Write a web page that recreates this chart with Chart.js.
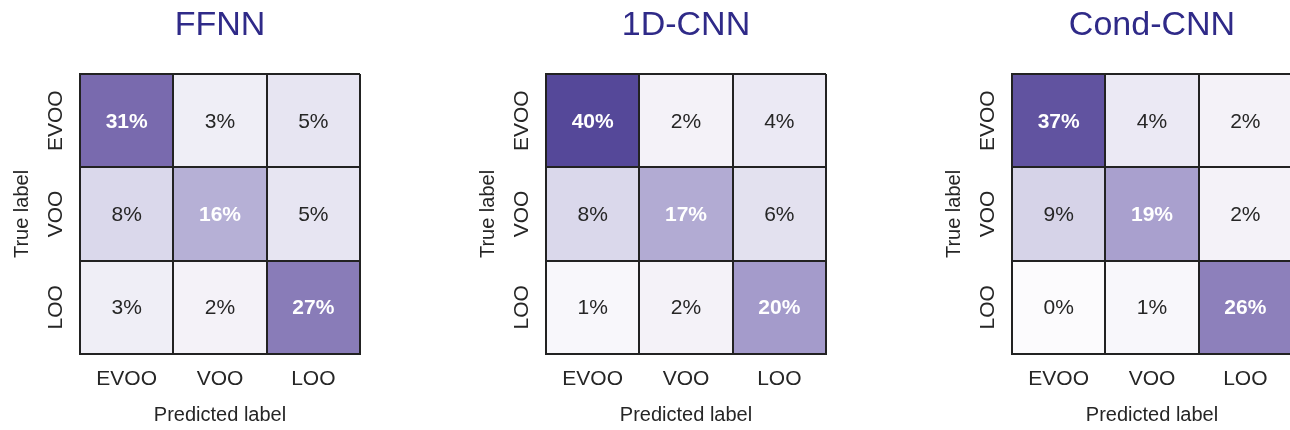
<!DOCTYPE html>
<html>
<head>
<meta charset="utf-8">
<script src="https://cdn.jsdelivr.net/npm/chart.js@4"></script>
<style>
  html, body { margin: 0; padding: 0; background: #fff; width: 1290px; height: 430px; overflow: hidden; }
  .panel { position: absolute; top: 0; width: 430px; height: 430px; }
</style>
</head>
<body>
<div class="panel" style="left:0px"><canvas id="c0" width="430" height="430"></canvas></div>
<div class="panel" style="left:466px"><canvas id="c1" width="430" height="430"></canvas></div>
<div class="panel" style="left:932px"><canvas id="c2" width="430" height="430"></canvas></div>
<script>
// ---- data ----
const predLabels = ['EVOO', 'VOO', 'LOO'];
const trueLabels = ['EVOO', 'VOO', 'LOO'];
const modelNames = ['FFNN', '1D-CNN', 'Cond-CNN'];
const ffnnValues = [[31, 3, 5], [8, 16, 5], [3, 2, 27]];
const cnn1dValues = [[40, 2, 4], [8, 17, 6], [1, 2, 20]];
const condCnnValues = [[37, 4, 2], [9, 19, 2], [0, 1, 26]];
const allValues = [ffnnValues, cnn1dValues, condCnnValues];

// ---- colour map (light to dark purple) ----
const cmapStops = [
  [0, [252, 251, 253]],
  [10, [210, 207, 230]],
  [20, [164, 155, 203]],
  [30, [125, 110, 176]],
  [40, [85, 72, 153]]
];
function cmap(v) {
  for (let i = 0; i < cmapStops.length - 1; i++) {
    const [a, ca] = cmapStops[i], [b, cb] = cmapStops[i + 1];
    if (v <= b || i === cmapStops.length - 2) {
      const t = Math.max(0, Math.min(1, (v - a) / (b - a)));
      const c = ca.map((x, k) => Math.round(x + (cb[k] - x) * t));
      return `rgb(${c[0]},${c[1]},${c[2]})`;
    }
  }
}

const FONT = 'Arial, "Liberation Sans", sans-serif';
const lineColor = '#222222';

const cellText = {
  id: 'cellText',
  afterDatasetsDraw(chart) {
    const ctx = chart.ctx;
    const vals = chart.options.plugins.cellText.values;
    ctx.save();
    ctx.textAlign = 'center';
    ctx.textBaseline = 'middle';
    chart.data.datasets.forEach((ds, r) => {
      const meta = chart.getDatasetMeta(r);
      meta.data.forEach((el, c) => {
        const v = vals[r][c];
        const white = v >= 15;
        ctx.fillStyle = white ? '#ffffff' : '#262626';
        ctx.font = (white ? 'bold ' : '') + '21px ' + FONT;
        ctx.fillText(v + '%', el.x, (el.y + el.base) / 2 + 1);
      });
    });
    ctx.restore();
  }
};

function makeChart(idx) {
  const vals = allValues[idx];
  const datasets = trueLabels.map((lab, r) => ({
    label: lab,
    data: predLabels.map(() => [r, r + 1]),
    backgroundColor: vals[r].map(v => cmap(v)),
    borderWidth: 0,
    grouped: false,
    barPercentage: 1,
    categoryPercentage: 1
  }));
  new Chart(document.getElementById('c' + idx), {
    type: 'bar',
    data: { labels: predLabels, datasets },
    plugins: [cellText],
    options: {
      responsive: false,
      animation: false,
      devicePixelRatio: 1,
      layout: { padding: { right: 70, top: 0, left: 0, bottom: 0 } },
      plugins: {
        legend: { display: false },
        tooltip: { enabled: false },
        title: {
          display: true,
          text: modelNames[idx],
          fullSize: false,
          color: '#2f2a88',
          font: { family: FONT, size: 34, weight: 'normal', lineHeight: 1 },
          padding: { top: 9, bottom: 31 }
        },
        cellText: { values: vals }
      },
      scales: {
        x: {
          type: 'category',
          offset: true,
          grid: { display: true, offset: true, color: lineColor, lineWidth: 2, drawTicks: false, z: 1 },
          border: { display: true, color: lineColor, width: 2, z: 1 },
          ticks: { color: '#262626', font: { family: FONT, size: 21 }, padding: 13, maxRotation: 0, z: 1 },
          title: { display: true, text: 'Predicted label', color: '#262626', font: { family: FONT, size: 20, lineHeight: 1.2 }, padding: { top: 0, bottom: 3 } },
          afterFit(scale) { scale.height = 76; }
        },
        y: {
          type: 'linear',
          min: 0,
          max: 3,
          reverse: true,
          afterBuildTicks(scale) {
            scale.ticks = [0, 0.5, 1, 1.5, 2, 2.5, 3].map(v => ({ value: v }));
          },
          grid: {
            display: true,
            drawTicks: false,
            lineWidth: 2,
            z: 1,
            color: (ctx) => (ctx.tick && Number.isInteger(ctx.tick.value)) ? lineColor : 'rgba(0,0,0,0)'
          },
          border: { display: true, color: lineColor, width: 2, z: 1 },
          ticks: {
            color: '#262626',
            font: { family: FONT, size: 21 },
            padding: -7,
            z: 1,
            minRotation: 90,
            maxRotation: 90,
            crossAlign: 'center',
            autoSkip: false,
            callback: (v) => {
              const i = Math.round(v - 0.5);
              return (Math.abs(v - 0.5 - i) < 1e-6 && i >= 0 && i < trueLabels.length) ? trueLabels[i] : '';
            }
          },
          title: { display: true, text: 'True label', color: '#262626', font: { family: FONT, size: 20, lineHeight: 1.2 }, padding: { top: 10, bottom: 0 } },
          afterFit(scale) { scale.width = 80; }
        }
      }
    }
  });
}
[0, 1, 2].forEach(makeChart);
</script>
</body>
</html>
